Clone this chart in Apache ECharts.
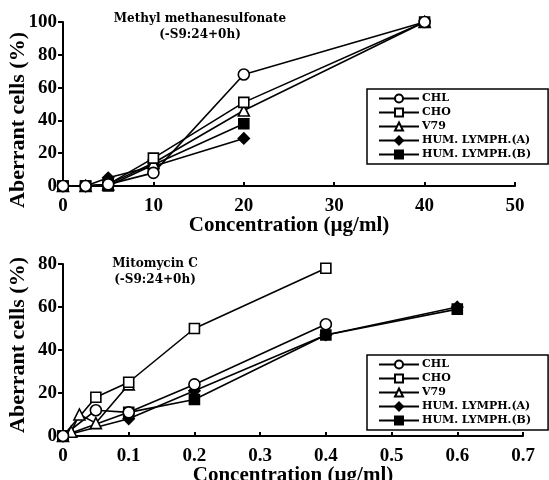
<!DOCTYPE html>
<html>
<head>
<meta charset="utf-8">
<script src="https://cdn.jsdelivr.net/npm/echarts@6/dist/echarts.min.js"></script>
<style>
html,body{margin:0;padding:0;background:#fff}
#main{width:549px;height:480px}
</style>
</head>
<body>
<div id="main"></div>
<script>
// cell lines (legend order)
var cellLines = ['CHL', 'CHO', 'V79', 'HUM. LYMPH.(A)', 'HUM. LYMPH.(B)'];

// Methyl methanesulfonate: [concentration (ug/ml), aberrant cells (%)]
var mmsCHL = [[0, 0], [2.5, 0], [5, 1], [10, 8], [20, 68], [40, 100]];
var mmsCHO = [[0, 0], [2.5, 0], [5, 1], [10, 17], [20, 51], [40, 100]];
var mmsV79 = [[0, 0], [2.5, 0], [5, 1], [10, 14], [20, 46], [40, 100]];
var mmsLymA = [[0, 0], [2.5, 0], [5, 5], [10, 12], [20, 29]];
var mmsLymB = [[0, 0], [2.5, 0], [5, 0], [10, 13], [20, 38]];

// Mitomycin C: [concentration (ug/ml), aberrant cells (%)]
var mmcCHL = [[0, 0], [0.05, 12], [0.1, 11], [0.2, 24], [0.4, 52]];
var mmcCHO = [[0, 0], [0.05, 18], [0.1, 25], [0.2, 50], [0.4, 78]];
var mmcV79 = [[0, 0], [0.0125, 2], [0.025, 10], [0.05, 6], [0.1, 24]];
var mmcLymA = [[0, 0], [0.1, 8], [0.2, 21], [0.4, 47], [0.6, 60]];
var mmcLymB = [[0, 0], [0.1, 11], [0.2, 17], [0.4, 47], [0.6, 59]];

// axis ticks
var mmsXTicks = [0, 50, 10];   // min, max, interval
var mmsYTicks = [0, 100, 20];
var mmcXTicks = [0, 0.7, 0.1];
var mmcYTicks = [0, 80, 20];

var SERIF = 'Liberation Serif';
var SMALL = 'DejaVu Serif';

// marker style per cell line
var markers = [
    {symbol: 'circle', size: 11, fill: '#fff'},
    {symbol: 'rect', size: 10, fill: '#fff'},
    {symbol: 'triangle', size: 11, fill: '#fff'},
    {symbol: 'diamond', size: 11, fill: '#000'},
    {symbol: 'rect', size: 10, fill: '#000'}
];

function makeSeries(idx, data, gridIdx) {
    var m = markers[idx];
    return {
        name: cellLines[idx], type: 'line', data: data,
        xAxisIndex: gridIdx, yAxisIndex: gridIdx,
        symbol: m.symbol, symbolSize: m.size, showAllSymbol: true, clip: false,
        lineStyle: {color: '#000', width: 1.6},
        itemStyle: {color: m.fill, borderColor: '#000', borderWidth: 1.6, opacity: 1},
        emphasis: {disabled: true},
        z: 3
    };
}

function xAxis(ticks, gridIdx, decimals) {
    return {
        type: 'value', gridIndex: gridIdx, min: ticks[0], max: ticks[1], interval: ticks[2],
        name: 'Concentration (\u00b5g/ml)', nameLocation: 'middle', nameGap: 29, nameMoveOverlap: false,
        nameTextStyle: {fontFamily: SERIF, fontWeight: 'bold', fontSize: 21, color: '#000'},
        axisLine: {lineStyle: {color: '#000', width: 2}},
        axisTick: {inside: true, length: 4, lineStyle: {color: '#000', width: 2}},
        axisLabel: {margin: 11, fontFamily: SERIF, fontWeight: 'bold', fontSize: 19, color: '#000',
            formatter: function (v) { return decimals ? (v === 0 ? '0' : v.toFixed(1)) : String(v); }},
        splitLine: {show: false}
    };
}

function yAxis(ticks, gridIdx, gap, namePad) {
    return {
        type: 'value', gridIndex: gridIdx, min: ticks[0], max: ticks[1], interval: ticks[2],
        name: 'Aberrant cells (%)', nameLocation: 'middle', nameGap: gap, nameMoveOverlap: false,
        nameTextStyle: {fontFamily: SERIF, fontWeight: 'bold', fontSize: 22, color: '#000', padding: namePad},
        axisLine: {lineStyle: {color: '#000', width: 2}},
        axisTick: {inside: false, length: 5, lineStyle: {color: '#000', width: 2}},
        axisLabel: {margin: 6, fontFamily: SERIF, fontWeight: 'bold', fontSize: 19, color: '#000'},
        splitLine: {show: false}
    };
}

function legend(top) {
    return {
        data: cellLines, orient: 'vertical', left: 367, top: top,
        itemWidth: 40, itemHeight: 10, itemGap: 3,
        padding: [4, 17, 4, 11],
        borderColor: '#000', borderWidth: 1.5, backgroundColor: '#fff',
        selectedMode: false,
        textStyle: {fontFamily: SMALL, fontWeight: 'bold', fontSize: 11, color: '#000', padding: [0, 0, 0, -2]}
    };
}

var titleStyle = {fontFamily: SMALL, fontWeight: 'bold', fontSize: 12, color: '#000', lineHeight: 16, align: 'center'};

var option = {
    animation: false,
    backgroundColor: '#fff',
    title: [
        {text: 'Methyl methanesulfonate\n(-S9:24+0h)', left: 200, top: 11, textAlign: 'center', padding: 0, textStyle: titleStyle},
        {text: 'Mitomycin C\n(-S9:24+0h)', left: 155, top: 256, textAlign: 'center', padding: 0, textStyle: titleStyle}
    ],
    legend: [legend(89), legend(355)],
    grid: [
        {left: 63, top: 22, width: 452, height: 164, outerBoundsMode: 'none', containLabel: false},
        {left: 63, top: 264, width: 460, height: 172, outerBoundsMode: 'none', containLabel: false}
    ],
    xAxis: [xAxis(mmsXTicks, 0, false), xAxis(mmcXTicks, 1, true)],
    yAxis: [yAxis(mmsYTicks, 0, 34, [0, 32, 0, 0]), yAxis(mmcYTicks, 1, 34, [0, 0, 0, 10])],
    series: [
        makeSeries(4, mmsLymB, 0), makeSeries(3, mmsLymA, 0),
        makeSeries(2, mmsV79, 0), makeSeries(1, mmsCHO, 0), makeSeries(0, mmsCHL, 0),
        makeSeries(4, mmcLymB, 1), makeSeries(3, mmcLymA, 1),
        makeSeries(2, mmcV79, 1), makeSeries(1, mmcCHO, 1), makeSeries(0, mmcCHL, 1)
    ]
};

var chart = echarts.init(document.getElementById('main'), null, {renderer: 'canvas'});
chart.setOption(option);
</script>
</body>
</html>
